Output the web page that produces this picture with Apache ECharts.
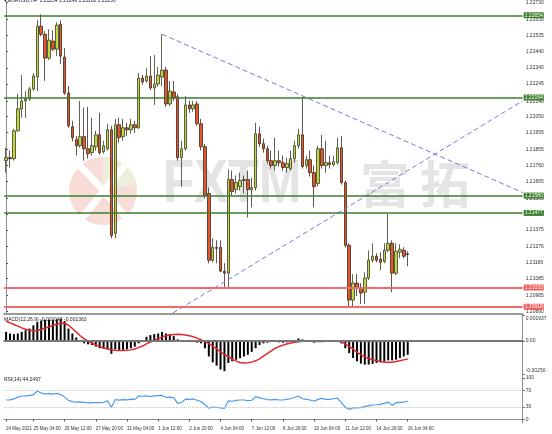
<!DOCTYPE html>
<html>
<head>
<meta charset="utf-8">
<script src="https://cdn.jsdelivr.net/npm/echarts@6.0.0/dist/echarts.min.js"></script>
<style>
html,body{margin:0;padding:0;background:#ffffff;}
#chart{width:552px;height:434px;}
</style>
</head>
<body>
<div id="chart"></div>
<script>
// ---------- categories (H4 bars) ----------
const tradingDays = ['24 May','25 May','26 May','27 May','28 May','31 May','1 Jun','2 Jun','3 Jun','4 Jun','7 Jun','8 Jun','9 Jun','10 Jun','11 Jun','14 Jun','15 Jun','16 Jun','17 Jun','18 Jun','21 Jun','22 Jun','23 Jun'];
const barHours = ['00:00','04:00','08:00','12:00','16:00','20:00'];
const barCount = 104;
const futureSlots = 29;

const xTickCats = ['24 May 00:00','25 May 04:00','26 May 12:00','27 May 20:00','31 May 04:00','1 Jun 12:00','2 Jun 20:00','4 Jun 04:00','7 Jun 12:00','8 Jun 20:00','10 Jun 04:00','11 Jun 12:00','14 Jun 20:00','16 Jun 04:00'];
const xTickText = ['24 May 2021','25 May 04:00','26 May 12:00','27 May 20:00','31 May 04:00','1 Jun 12:00','2 Jun 20:00','4 Jun 04:00','7 Jun 12:00','8 Jun 20:00','10 Jun 04:00','11 Jun 12:00','14 Jun 20:00','16 Jun 04:00'];

// ---------- price data ----------
const open = [1.21788,1.21806,1.21800,1.21966,1.22097,1.22144,1.22156,1.22215,1.22286,1.22589,
1.22541,1.22399,1.22500,1.22452,1.22601,1.22405,1.22191,1.21990,1.21913,1.21877,
1.21931,1.21859,1.21836,1.21871,1.21942,1.21842,1.21859,1.21972,1.21355,1.22002,
1.21931,1.21984,1.21972,1.22002,1.21984,1.22280,1.22263,1.22292,1.22221,1.22245,
1.22286,1.22328,1.22126,1.22197,1.22168,1.21806,1.21859,1.22120,1.22097,1.22126,
1.22008,1.21871,1.21593,1.21195,1.21272,1.21272,1.21130,1.21118,1.21676,1.21616,
1.21634,1.21670,1.21676,1.21616,1.21628,1.21948,1.21889,1.21859,1.21788,1.21759,
1.21788,1.21776,1.21747,1.21741,1.21800,1.21877,1.21942,1.21759,1.21794,1.21717,
1.21652,1.21859,1.21759,1.21776,1.21765,1.21776,1.21865,1.21658,1.21284,1.20958,
1.21059,1.21029,1.21005,1.21089,1.21195,1.21219,1.21201,1.21189,1.21255,1.21296,
1.21118,1.21243,1.21255,1.21234];
const close = [1.21806,1.21800,1.21966,1.22097,1.22144,1.22156,1.22215,1.22292,1.22589,1.22541,
1.22399,1.22506,1.22452,1.22595,1.22411,1.22191,1.21996,1.21925,1.21877,1.21931,
1.21859,1.21830,1.21877,1.21942,1.21836,1.21877,1.21972,1.21343,1.22002,1.21925,
1.21984,1.21972,1.22002,1.21984,1.22280,1.22257,1.22292,1.22221,1.22245,1.22298,
1.22328,1.22126,1.22203,1.22162,1.21806,1.21859,1.22120,1.22097,1.22120,1.22008,
1.21871,1.21581,1.21195,1.21272,1.21266,1.21130,1.21118,1.21676,1.21604,1.21658,
1.21670,1.21676,1.21616,1.21628,1.21948,1.21889,1.21859,1.21788,1.21759,1.21788,
1.21776,1.21747,1.21770,1.21800,1.21877,1.21942,1.21753,1.21794,1.21717,1.21634,
1.21859,1.21759,1.21776,1.21765,1.21782,1.21865,1.21658,1.21284,1.20958,1.21059,
1.21029,1.21000,1.21089,1.21195,1.21219,1.21195,1.21183,1.21255,1.21296,1.21118,
1.21249,1.21260,1.21219,1.21230];
const low = [1.21717,1.21747,1.21788,1.21960,1.22043,1.22043,1.22144,1.22203,1.22203,1.22529,
1.22263,1.22387,1.22441,1.22411,1.22363,1.22180,1.21984,1.21901,1.21818,1.21865,
1.21788,1.21800,1.21818,1.21848,1.21824,1.21830,1.21848,1.21326,1.21326,1.21895,
1.21907,1.21936,1.21948,1.21954,1.21978,1.22239,1.22251,1.22209,1.22120,1.22227,
1.22233,1.22108,1.22114,1.22144,1.21788,1.21634,1.21848,1.22073,1.22079,1.21996,
1.21848,1.21563,1.21177,1.21183,1.21177,1.21124,1.21035,1.21035,1.21581,1.21593,
1.21610,1.21593,1.21450,1.21510,1.21610,1.21871,1.21836,1.21770,1.21741,1.21729,
1.21753,1.21729,1.21717,1.21729,1.21776,1.21859,1.21741,1.21741,1.21693,1.21510,
1.21634,1.21741,1.21717,1.21741,1.21753,1.21765,1.21646,1.21272,1.20922,1.20922,
1.20982,1.20934,1.20934,1.21077,1.21183,1.21183,1.21136,1.21177,1.21243,1.21005,
1.21106,1.21207,1.21207,1.21160];
const high = [1.21865,1.21848,1.21978,1.22186,1.22298,1.22203,1.22227,1.22310,1.22624,1.22660,
1.22559,1.22571,1.22565,1.22612,1.22624,1.22458,1.22233,1.22025,1.21936,1.22144,
1.22103,1.22108,1.22043,1.21966,1.22073,1.21907,1.22008,1.21996,1.22037,1.22043,
1.22037,1.22014,1.22037,1.22025,1.22310,1.22298,1.22340,1.22411,1.22417,1.22346,
1.22541,1.22346,1.22263,1.22263,1.22186,1.21907,1.22174,1.22144,1.22144,1.22144,
1.22037,1.21889,1.21628,1.21326,1.21314,1.21314,1.21177,1.21735,1.21729,1.21699,
1.21717,1.21699,1.21729,1.21687,1.22014,1.21990,1.21919,1.21877,1.21848,1.21925,
1.21848,1.21818,1.21806,1.21848,1.21907,1.21978,1.22168,1.21818,1.21848,1.21759,
1.21877,1.21942,1.21907,1.21818,1.21818,1.21925,1.21936,1.21670,1.21296,1.21112,
1.21112,1.21059,1.21124,1.21255,1.21296,1.21237,1.21243,1.21296,1.21474,1.21314,
1.21296,1.21290,1.21272,1.21249];

// horizontal levels
const greenLevels = [1.22654, 1.22164, 1.21580, 1.21477];
const redLevels = [1.21033, 1.20918];
// trend lines: [bar index, price]
const trendDown = [[40, 1.22541], [132.5, 1.21598]];
const trendUp = [[42.8, 1.20881], [132.5, 1.22144]];
// price axis labels
const priceTicks = [1.22730,1.22630,1.22535,1.22440,1.22340,1.22245,1.22140,1.22050,1.21955,1.21855,1.21760,1.21665,1.21565,1.21470,1.21375,1.21276,1.21180,1.21085,1.20985,1.20890];

// ---------- MACD ----------
const macdHist = [0.000695,0.000571,0.000521,0.000571,0.000695,0.000819,0.000944,0.001192,0.001440,0.001564,
0.001614,0.001614,0.001614,0.001639,0.001688,0.001515,0.000944,0.000571,0.000273,0.000074,
-0.000174,-0.000248,-0.000298,-0.000422,-0.000546,-0.000596,-0.000621,-0.000968,-0.000621,-0.000670,
-0.000670,-0.000621,-0.000546,-0.000422,-0.000174,0.000025,0.000323,0.000447,0.000521,0.000571,
0.000695,0.000571,0.000521,0.000372,0.000124,0.000020,0.000025,-0.000010,-0.000025,-0.000124,
-0.000174,-0.000546,-0.001167,-0.001614,-0.001862,-0.002160,-0.002284,-0.001664,-0.001539,-0.001415,
-0.001291,-0.001167,-0.001043,-0.000819,-0.000546,-0.000298,-0.000174,-0.000124,-0.000074,-0.000074,
-0.000099,-0.000124,-0.000099,-0.000050,0.000025,0.000199,0.000124,0.000074,0.000025,-0.000124,
-0.000050,-0.000010,0.000010,0.000025,0.000050,0.000025,-0.000174,-0.000546,-0.000919,-0.001291,
-0.001539,-0.001713,-0.001788,-0.001788,-0.001738,-0.001664,-0.001614,-0.001539,-0.001465,-0.001465,
-0.001415,-0.001291,-0.001167,-0.001043];
const macdSignal = [0.00150,0.00138,0.00125,0.00113,0.00100,0.00090,0.00082,0.00078,0.00080,0.00088,
0.00098,0.00108,0.00118,0.00127,0.00134,0.00136,0.00120,0.00095,0.00068,0.00040,
0.00018,0.00000,-0.00015,-0.00030,-0.00042,-0.00052,-0.00060,-0.00066,-0.00070,-0.00072,
-0.00072,-0.00070,-0.00067,-0.00060,-0.00050,-0.00038,-0.00022,-0.00008,0.00005,0.00018,
0.00030,0.00040,0.00046,0.00050,0.00052,0.00050,0.00046,0.00040,0.00032,0.00022,
0.00010,-0.00005,-0.00020,-0.00038,-0.00060,-0.00082,-0.00102,-0.00118,-0.00138,-0.00152,
-0.00163,-0.00166,-0.00165,-0.00160,-0.00150,-0.00135,-0.00115,-0.00095,-0.00075,-0.00055,
-0.00042,-0.00031,-0.00022,-0.00015,-0.00010,-0.00005,-0.00002,0.00000,0.00001,-0.00001,
-0.00004,-0.00003,-0.00002,-0.00001,0.00000,0.00000,-0.00008,-0.00022,-0.00040,-0.00062,
-0.00085,-0.00105,-0.00120,-0.00133,-0.00142,-0.00150,-0.00156,-0.00160,-0.00161,-0.00160,
-0.00156,-0.00150,-0.00143,-0.001363];
const macdTicks = [0.001937, 0, -0.0025];
const macdTickText = ['0.001937', '0.00', '-0.00250'];

// ---------- RSI ----------
const rsi = [47.0,47.5,49.5,54.0,56.6,57.0,58.0,59.5,68.5,64.0,
61.0,62.5,61.0,63.0,60.0,54.0,46.0,43.0,42.0,42.5,
41.5,40.0,40.5,41.0,40.5,41.5,45.0,29.5,48.0,46.5,
48.0,47.5,49.0,48.5,56.5,56.0,57.0,55.0,57.0,57.5,
58.0,53.0,54.0,52.5,39.0,41.0,49.0,48.5,49.5,46.5,
43.5,36.0,27.5,30.0,29.5,28.0,27.0,45.0,44.0,46.0,
47.0,47.0,45.5,46.0,55.0,52.0,50.0,48.0,47.5,48.6,
47.0,47.0,48.5,50.0,53.0,56.5,50.0,48.5,47.0,44.0,
48.5,51.0,48.5,48.5,50.0,51.5,40.5,29.5,24.5,28.0,
28.0,28.5,31.0,33.5,35.0,35.5,36.5,39.0,42.0,34.0,
40.5,41.5,41.5,44.2497];
const rsiTicks = [100, 70, 30, 0];
const rsiLevels = [70, 30];

// ---------- build ----------
const categories = [];
for (const d of tradingDays) for (const h of barHours) categories.push(d + ' ' + h);
const axisCategories = categories.slice(0, barCount + futureSlots);
const candles = open.map((o, i) => [o, close[i], low[i], high[i]]);
const last = barCount - 1;

const FONT = '"Liberation Sans", "DejaVu Sans", sans-serif';
const AX = '#8e8e8e';
const GREEN = '#3c7d2c';
const RED = '#f06c6c';
const tickFn = (idx, v) => xTickCats.indexOf(v) >= 0;
const gridL = 4.15, gridR = 29.3;

const chart = echarts.init(document.getElementById('chart'), null, {renderer: 'canvas'});
chart.setOption({
  animation: false,
  backgroundColor: '#ffffff',
  textStyle: {fontFamily: FONT},
  grid: [
    {left: gridL, right: gridR, top: 0, height: 314},
    {left: gridL, right: gridR, top: 315.5, height: 58.5},
    {left: gridL, right: gridR, top: 375, height: 48}
  ],
  xAxis: [
    {type: 'category', gridIndex: 0, data: axisCategories, boundaryGap: true,
     axisLine: {show: true, lineStyle: {color: '#9a9a9a', width: 2}}, axisTick: {show: false}, axisLabel: {show: false}, splitLine: {show: false}},
    {type: 'value', gridIndex: 0, min: -0.5, max: axisCategories.length - 0.5, show: false},
    {type: 'category', gridIndex: 1, data: axisCategories, boundaryGap: true,
     axisLine: {show: true, lineStyle: {color: '#9a9a9a', width: 2}}, axisTick: {show: false}, axisLabel: {show: false}, splitLine: {show: false}},
    {type: 'category', gridIndex: 2, data: axisCategories, boundaryGap: true,
     axisLine: {show: true, lineStyle: {color: AX, width: 1}},
     axisTick: {show: true, alignWithLabel: true, interval: tickFn, length: 2, lineStyle: {color: '#555'}},
     axisLabel: {interval: tickFn, showMinLabel: true, hideOverlap: false, formatter: v => xTickText[xTickCats.indexOf(v)], align: 'left', fontSize: 4.5, color: '#333', margin: 3, fontFamily: FONT},
     splitLine: {show: false}}
  ],
  yAxis: [
    {type: 'value', gridIndex: 0, position: 'right', min: 1.20875, max: 1.22737,
     axisLine: {show: true, lineStyle: {color: AX}},
     axisTick: {show: true, length: 2, customValues: priceTicks, lineStyle: {color: '#555'}},
     axisLabel: {customValues: priceTicks, formatter: v => v.toFixed(5), fontSize: 5, color: '#333', margin: 3, fontFamily: FONT},
     splitLine: {show: false}},
    {type: 'value', gridIndex: 1, position: 'right', min: -0.0025, max: 0.001937,
     axisLine: {show: true, lineStyle: {color: AX}},
     axisTick: {show: true, length: 2, customValues: macdTicks, lineStyle: {color: '#555'}},
     axisLabel: {customValues: macdTicks, showMinLabel: true, showMaxLabel: true,
       formatter: v => {
         const i = macdTicks.indexOf(v);
         const t = macdTickText[i] || '';
         return i === 0 ? '{top|' + t + '}' : (i === macdTicks.length - 1 ? '{bot|' + t + '}' : t);
       },
       rich: {top: {fontSize: 5, color: '#333', padding: [7, 0, 0, 0]}, bot: {fontSize: 5, color: '#333', padding: [0, 0, 7, 0]}},
       fontSize: 5, color: '#333', margin: 3, fontFamily: FONT},
     splitLine: {show: false}},
    {type: 'value', gridIndex: 2, position: 'right', min: -8.4, max: 107.2,
     axisLine: {show: true, lineStyle: {color: AX}},
     axisTick: {show: true, length: 2, customValues: rsiTicks, lineStyle: {color: '#555'}},
     axisLabel: {customValues: rsiTicks, formatter: v => String(v), fontSize: 5, color: '#333', margin: 3, fontFamily: FONT},
     splitLine: {show: false}}
  ],
  graphic: [
    // watermark logo
    {type: 'circle', z: 0, shape: {cx: 103, cy: 191, r: 34}, style: {fill: '#f8dcd8'}, silent: true},
    {type: 'sector', z: 0, shape: {cx: 103, cy: 191, r: 34, r0: 0, startAngle: -Math.PI / 2, endAngle: -0.2}, style: {fill: '#eeeedd'}, silent: true},
    {type: 'bezierCurve', z: 0, shape: {x1: 80, y1: 166, cpx1: 100, cpy1: 185, x2: 126, y2: 218}, style: {stroke: '#ffffff', lineWidth: 7, fill: 'none'}, silent: true},
    {type: 'bezierCurve', z: 0, shape: {x1: 126, y1: 164, cpx1: 104, cpy1: 190, x2: 82, y2: 218}, style: {stroke: '#ffffff', lineWidth: 7, fill: 'none'}, silent: true},
    {type: 'text', z: 0, x: 163, y: 185, scaleX: 0.82, silent: true,
     style: {text: 'FXTM', fontSize: 62, fontWeight: 'bold', fontFamily: FONT, fill: '#e4e4e4', verticalAlign: 'middle'}},
    {type: 'text', z: 0, x: 360, y: 184, silent: true,
     style: {text: '富', fontSize: 50, fontWeight: 'bold', fontFamily: '"Noto Sans CJK SC"', fill: '#e4e4e4', verticalAlign: 'middle'}},
    {type: 'text', z: 0, x: 420, y: 184, silent: true,
     style: {text: '拓', fontSize: 50, fontWeight: 'bold', fontFamily: '"Noto Sans CJK SC"', fill: '#e4e4e4', verticalAlign: 'middle'}},
    // panel captions
    {type: 'text', z: 10, x: 4, y: -2, silent: true,
     style: {text: '▾ EURUSD,H4  ' + [open[last], high[last], low[last], close[last]].map(v => v.toFixed(5)).join(' '), fontSize: 5, fontFamily: FONT, fill: '#222'}},
    {type: 'text', z: 10, x: 4, y: 320, silent: true,
     style: {text: 'MACD(12,26,9) ' + macdHist[last].toFixed(6) + ' ' + macdSignal[last].toFixed(6), fontSize: 5, fontFamily: FONT, fill: '#222', verticalAlign: 'middle'}},
    {type: 'text', z: 10, x: 4, y: 380, silent: true,
     style: {text: 'RSI(14) ' + rsi[last].toFixed(4), fontSize: 5, fontFamily: FONT, fill: '#222', verticalAlign: 'middle'}}
  ],
  series: [
    {type: 'candlestick', xAxisIndex: 0, yAxisIndex: 0, data: candles, barWidth: 3,
     itemStyle: {color: '#c4d63e', color0: '#e3582a', borderColor: '#3b3b2a', borderColor0: '#3b2a22', borderWidth: 0.8},
     markLine: {
       symbol: ['none', 'none'], silent: true, animation: false, precision: 5,
       label: {show: true, position: 'end', formatter: p => Number(p.value).toFixed(5), fontSize: 5, color: '#ffffff', padding: [1, 1, 0, 1], distance: 1, fontFamily: FONT},
       data: [
         ...greenLevels.map(v => ({yAxis: v, lineStyle: {color: GREEN, width: 1.5, type: 'solid'}, label: {backgroundColor: GREEN}})),
         ...redLevels.map(v => ({yAxis: v, lineStyle: {color: RED, width: 2, type: 'solid'}, label: {backgroundColor: '#f05a5a'}})),
         {yAxis: close[last], lineStyle: {opacity: 0}, label: {backgroundColor: '#000000'}}
       ]
     }},
    {type: 'line', xAxisIndex: 1, yAxisIndex: 0, data: trendDown, symbol: 'none', silent: true, z: 3,
     lineStyle: {color: '#7a78d8', width: 1, type: [5, 3]}},
    {type: 'line', xAxisIndex: 1, yAxisIndex: 0, data: trendUp, symbol: 'none', silent: true, z: 3,
     lineStyle: {color: '#7a78d8', width: 1, type: [5, 3]}},
    {type: 'bar', xAxisIndex: 2, yAxisIndex: 1, data: macdHist, barWidth: 2, silent: true,
     itemStyle: {color: '#000000'},
     markLine: {symbol: ['none', 'none'], silent: true, label: {show: false}, data: [{yAxis: 0}],
       lineStyle: {color: '#777777', width: 2, type: 'solid'}}},
    {type: 'line', xAxisIndex: 2, yAxisIndex: 1, data: macdSignal, symbol: 'none', silent: true, z: 4,
     lineStyle: {color: '#e3262a', width: 1.5}},
    {type: 'line', xAxisIndex: 3, yAxisIndex: 2, data: rsi, symbol: 'none', silent: true,
     lineStyle: {color: '#4b9bf0', width: 1.2},
     markLine: {symbol: ['none', 'none'], silent: true, label: {show: false},
       data: rsiLevels.map(v => ({yAxis: v})),
       lineStyle: {color: '#c4c4c4', width: 1, type: 'dotted'}}}
  ]
});
</script>
</body>
</html>
